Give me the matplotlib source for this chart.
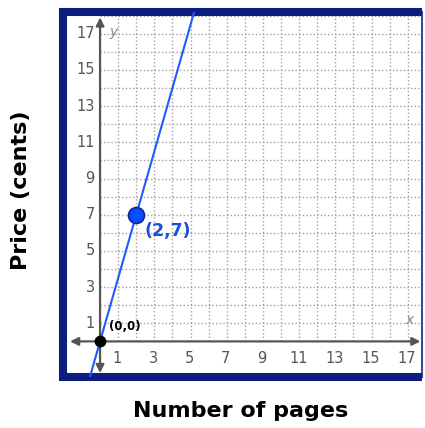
import numpy as np
import matplotlib
matplotlib.use("Agg")
import matplotlib.pyplot as plt

# data
line_x = [-0.55, 5.3]
slope = 3.5
points_x = [0, 2]
points_y = [0, 7]
point_labels = ["(0,0)", "(2,7)"]
tick_vals = [1, 3, 5, 7, 9, 11, 13, 15, 17]

navy = "#0d1d80"
blue = "#1f5cff"
gray = "#555555"

fig = plt.figure(figsize=(4.25, 4.28), dpi=100)
ax = fig.add_axes([0.1494, 0.1203, 0.8424, 0.8517])
ax.set_xlim(-2.02, 17.76)
ax.set_ylim(-1.94, 18.2)

for side in ["left", "top", "bottom"]:
    ax.spines[side].set_color(navy)
    ax.spines[side].set_linewidth(5.8)
ax.spines["top"].set_capstyle("butt")
ax.spines["bottom"].set_capstyle("butt")
ax.spines["right"].set_color("#3a4aa0")
ax.spines["right"].set_linewidth(1.5)
ax.set_xticks([])
ax.set_yticks([])

# dotted grid, first quadrant only
for v in range(1, 18):
    ax.plot([v, v], [0, 18.2], color="#a0a0a0", lw=1, ls=(0, (1, 1.6)), zorder=1)
for v in range(1, 19):
    ax.plot([0, 17.76], [v, v], color="#a0a0a0", lw=1, ls=(0, (1, 1.6)), zorder=1)

# axes with arrows
ax.annotate("", xy=(17.7, 0), xytext=(-1.66, 0),
            arrowprops=dict(arrowstyle="<|-|>", color=gray, lw=1.6,
                            mutation_scale=12, shrinkA=0, shrinkB=0), zorder=2)
ax.annotate("", xy=(0, 17.9), xytext=(0, -1.75),
            arrowprops=dict(arrowstyle="<|-|>", color=gray, lw=1.6,
                            mutation_scale=12, shrinkA=0, shrinkB=0), zorder=2)

for t in tick_vals:
    ax.text(t - 0.05, -0.95, str(t), ha="center", va="center", fontsize=10.5, color=gray)
    ax.text(-0.3, t, str(t), ha="right", va="center", fontsize=10.5, color=gray)
ax.text(17.1, 1.2, "x", fontsize=10, color="#888888", style="italic", ha="center", va="center")
ax.text(0.75, 17.1, "y", fontsize=10, color="#888888", style="italic", ha="center", va="center")

xs = np.array(line_x)
ax.plot(xs, slope * xs, color=blue, lw=1.5, zorder=3)

ax.plot(points_x[0], points_y[0], "o", color="black", ms=7.5, zorder=4)
ax.plot(points_x[1], points_y[1], "o", color="#0a4cff", mec="#0a2a90", mew=1.2, ms=11.5, zorder=4)
ax.text(1.38, 0.85, point_labels[0], fontsize=8.5, fontweight="bold", color="black",
        ha="center", va="center", zorder=5)
ax.text(3.76, 6.1, point_labels[1], fontsize=12.5, fontweight="bold", color="#1a4fd8",
        ha="center", va="center", zorder=5)

fig.text(241 / 425, 1 - 411 / 428, "Number of pages", fontsize=16, fontweight="bold",
         family="DejaVu Sans", ha="center", va="center")
fig.text(21 / 425, 1 - 190 / 428, "Price (cents)", fontsize=16, fontweight="bold",
         family="DejaVu Sans", ha="center", va="center", rotation=90)

fig.savefig("out.png", dpi=100)
